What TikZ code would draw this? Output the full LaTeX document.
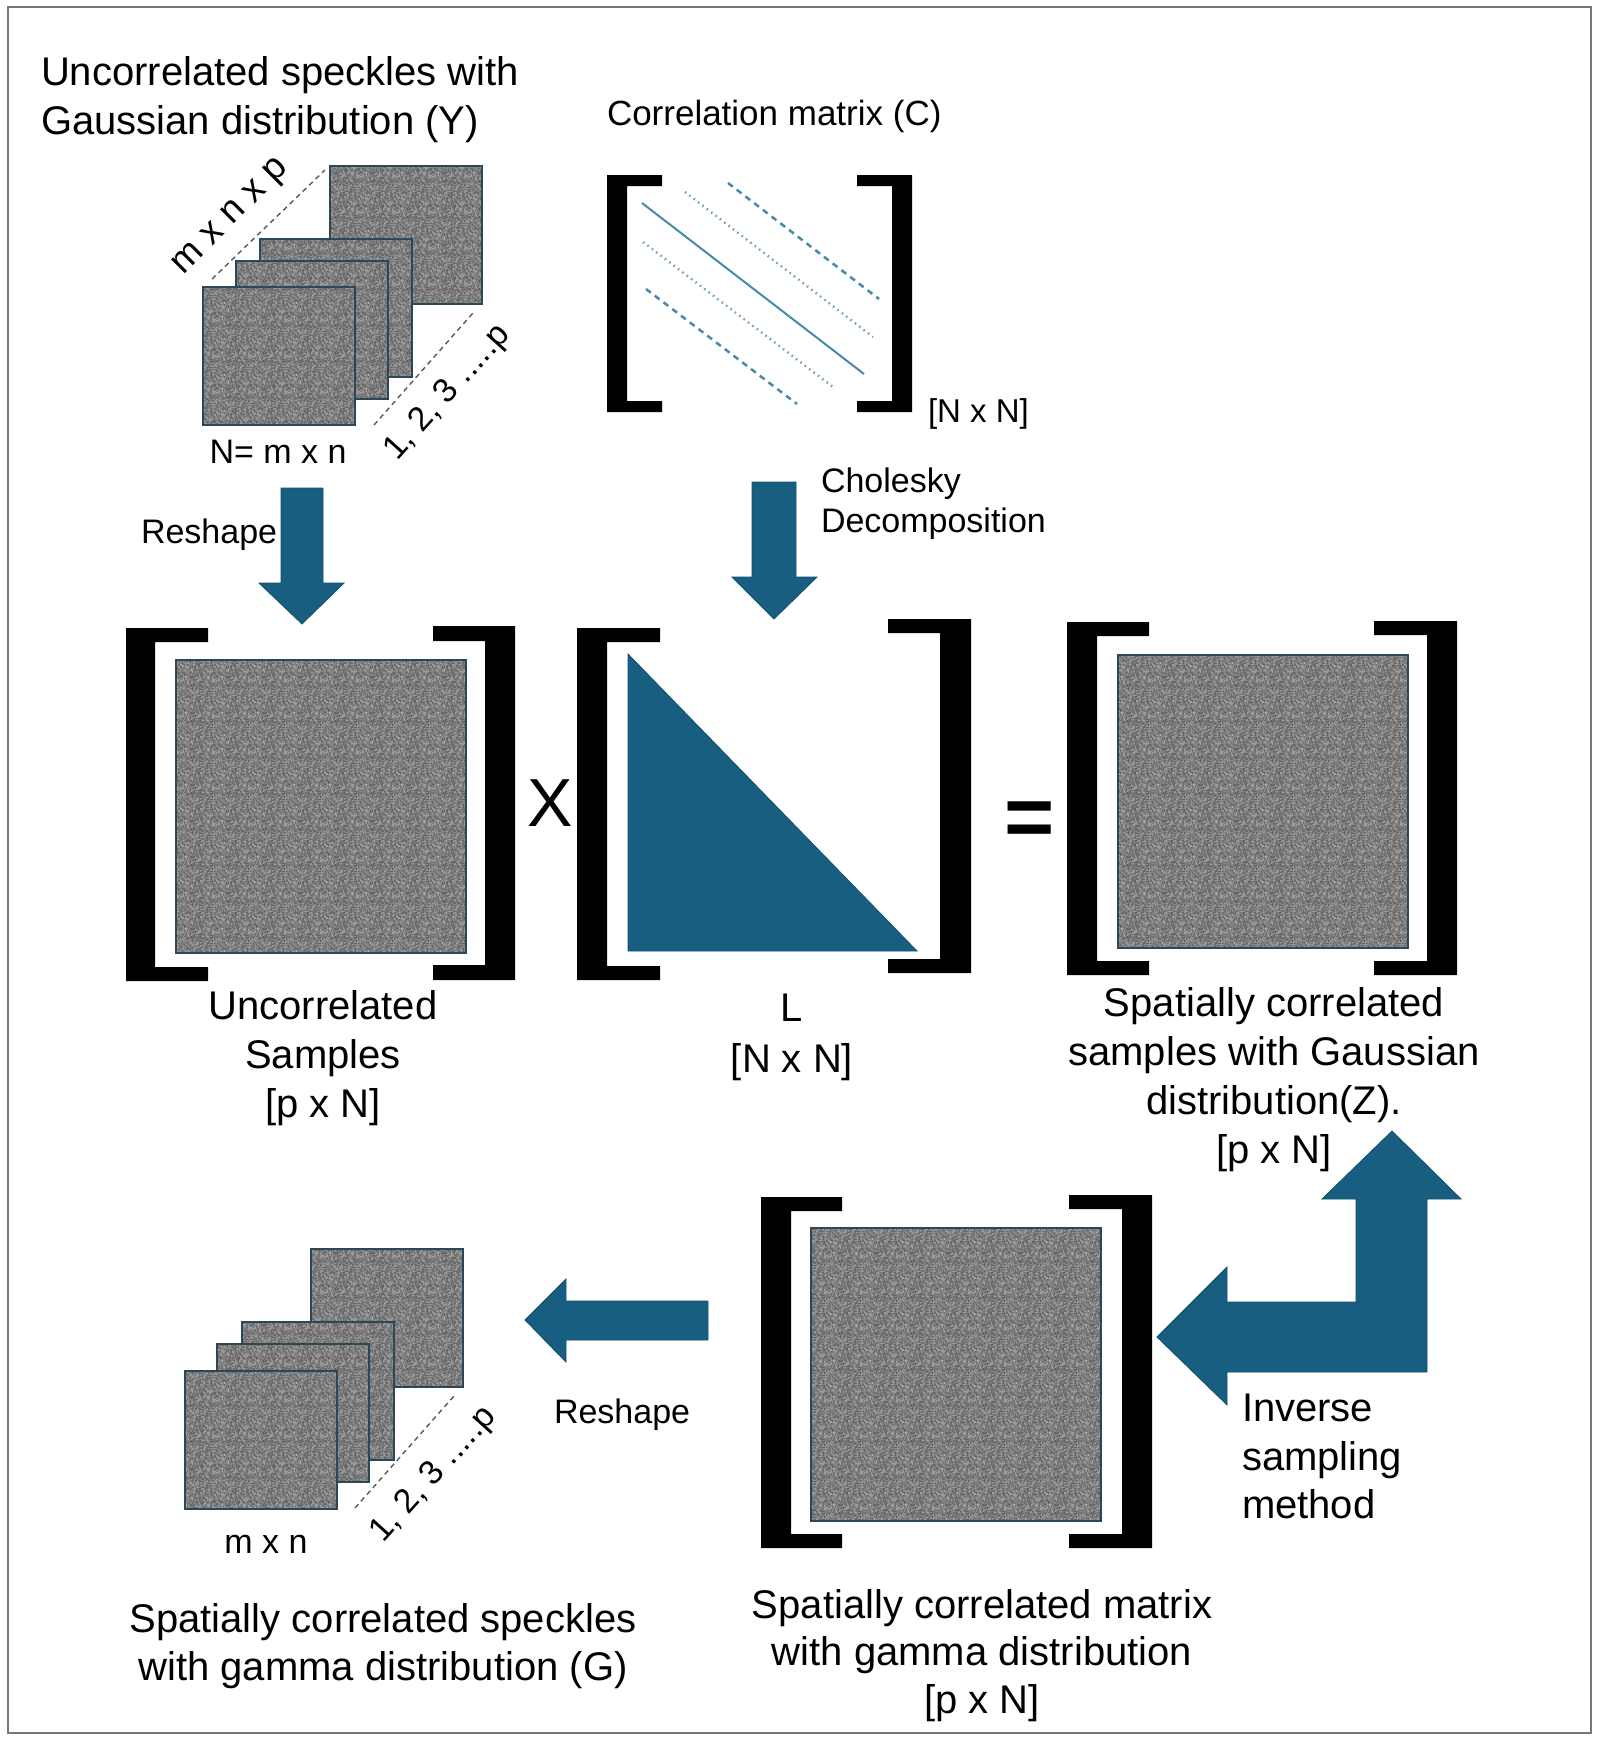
\documentclass[tikz,border=0pt]{standalone}
\usepackage{fontspec}
\setmainfont{Liberation Sans}
\usetikzlibrary{patterns}
\definecolor{arrowblue}{RGB}{23,94,128}
\definecolor{diagblue}{RGB}{70,138,170}
\definecolor{sqline}{RGB}{44,72,88}
\definecolor{spbase}{RGB}{128,128,128}
\definecolor{sphi}{RGB}{166,166,166}
\definecolor{splo}{RGB}{96,96,96}
\definecolor{frame}{RGB}{120,120,120}
\pgfdeclarepatternformonly{noiseA}{\pgfqpoint{0pt}{0pt}}{\pgfqpoint{36pt}{36pt}}{\pgfqpoint{36pt}{36pt}}{%
  \pgfmathsetseed{17}%
  \foreach \k in {1,...,260}{%
    \pgfmathrandominteger{\rx}{0}{35}%
    \pgfmathrandominteger{\ry}{0}{35}%
    \pgfpathrectangle{\pgfpoint{\rx pt}{\ry pt}}{\pgfpoint{1.3pt}{1.3pt}}%
    \pgfusepath{fill}%
  }%
}
\pgfdeclarepatternformonly{noiseB}{\pgfqpoint{0pt}{0pt}}{\pgfqpoint{36pt}{36pt}}{\pgfqpoint{36pt}{36pt}}{%
  \pgfmathsetseed{53}%
  \foreach \k in {1,...,240}{%
    \pgfmathrandominteger{\rx}{0}{35}%
    \pgfmathrandominteger{\ry}{0}{35}%
    \pgfpathrectangle{\pgfpoint{\rx pt}{\ry pt}}{\pgfpoint{1.3pt}{1.3pt}}%
    \pgfusepath{fill}%
  }%
}
% left bracket: x outer, y top, y bottom, arm end x, bar width, arm thickness
\newcommand\lbrk[6]{\fill (#1,#2) -- (#4,#2) -- (#4,#2+#6) -- (#1+#5,#2+#6) -- (#1+#5,#3-#6) -- (#4,#3-#6) -- (#4,#3) -- (#1,#3) -- cycle;}
\newcommand\rbrk[6]{\fill (#1,#2) -- (#4,#2) -- (#4,#2+#6) -- (#1-#5,#2+#6) -- (#1-#5,#3-#6) -- (#4,#3-#6) -- (#4,#3) -- (#1,#3) -- cycle;}
\begin{document}
\begin{tikzpicture}[x=1pt,y=-1pt,
  speck/.style={anchor=north west, inner sep=0pt, outer sep=0pt,
    minimum width=152pt, minimum height=138pt, fill=spbase,
    postaction={pattern=noiseA, pattern color=sphi},
    postaction={pattern=noiseB, pattern color=splo},
    postaction={draw=sqline, line width=1.3pt}},
  bigspeck/.style={speck, minimum width=290pt, minimum height=293pt},
  blockarrow/.style={fill=arrowblue, draw=arrowblue!85!black, line width=0.8pt},
  dimline/.style={draw=black!65, line width=1.4pt, dash pattern=on 5pt off 4pt},
  diagsolid/.style={draw=diagblue, line width=2pt},
  diagdash/.style={draw=diagblue, line width=2.5pt, dash pattern=on 6pt off 5pt},
  diagdot/.style={draw=diagblue!80, line width=2.4pt, dash pattern=on 1.5pt off 4pt},
  txt/.style={inner sep=0pt, outer sep=0pt, text=black},
  t40/.style={txt, font=\fontsize{40}{49}\selectfont},
  t35/.style={txt, font=\fontsize{35}{42}\selectfont},
  t34/.style={txt, font=\fontsize{34}{40}\selectfont},
  t33/.style={txt, font=\fontsize{33}{40}\selectfont}]
\useasboundingbox (0,0) rectangle (1600,1742);
\fill[white] (0,0) rectangle (1600,1742);
\draw[frame, line width=2.5pt] (8,7) rectangle (1591,1733);

% ---------- top left: uncorrelated speckles stack ----------
\node[t40, anchor=north west, align=left] (ttlY) at (41,57) {Uncorrelated speckles with\\Gaussian distribution (Y)};
\node[speck] (y4) at (330,166) {};
\node[speck] (y3) at (260,239) {};
\node[speck] (y2) at (236,261) {};
\node[speck] (y1) at (203,287) {};
\draw[dimline] (212,279) -- (325,170);
\draw[dimline] (374,425) -- (473,313);
\node[txt, font=\fontsize{37}{40}\selectfont, rotate=45] (mnp) at (232,218) {m x n x p};
\node[t34, rotate=48] (idx1) at (448,393) {1, 2, 3 .....p};
\node[t34, anchor=base] (nmn) at (278,463) {N= m x n};

% ---------- correlation matrix ----------
\node[t35, anchor=base west] (ttlC) at (607,125) {Correlation matrix (C)};
\lbrk{607}{175}{412}{662}{20}{11}
\rbrk{912}{175}{412}{857}{20}{11}
\draw[diagsolid] (642,203) -- (864,374);
\draw[diagdot] (685,192) -- (873,337);
\draw[diagdash] (728,183) -- (879,299);
\draw[diagdot] (643,242) -- (833,387);
\draw[diagdash] (646,289) -- (797,404);
\node[t33, anchor=base west] (nnC) at (928,422) {[N x N]};

% ---------- arrows to the middle row ----------
\draw[blockarrow] (281,488) -- (323,488) -- (323,583) -- (344,583) -- (302,624) -- (259,583) -- (281,583) -- cycle;
\node[t34, anchor=base west] (resh1) at (141,543) {Reshape};
\draw[blockarrow] (752,482) -- (796,482) -- (796,577) -- (817,577) -- (774,619) -- (732,577) -- (752,577) -- cycle;
\node[t34, anchor=north west, align=left] (chol) at (821,468) {Cholesky\\Decomposition};

% ---------- middle row ----------
\lbrk{126}{628}{981}{208}{29}{14}
\node[bigspeck] (uY) at (176,660) {};
\rbrk{515}{626}{980}{433}{30}{15}
\node[t40, anchor=north, align=center] (labY) at (323,991) {Uncorrelated\\Samples\\{[p x N]}};
\node[txt, font=\fontsize{68}{80}\selectfont] (times) at (550,803) {X};

\lbrk{577}{628}{980}{660}{30}{14}
\fill[arrowblue, draw=arrowblue!85!black, line width=0.8pt] (628,654) -- (917,951) -- (628,951) -- cycle;
\rbrk{971}{619}{973}{888}{31}{14}
\node[txt, font=\fontsize{40}{51}\selectfont, anchor=north, align=center] (labL) at (792,994) {L\\{[N x N]}};
\node[txt, font=\fontsize{86}{90}\selectfont\bfseries] (eq) at (1030,824) {=};

\lbrk{1067}{622}{975}{1149}{30}{14}
\node[bigspeck] (zZ) at (1118,655) {};
\rbrk{1457}{621}{975}{1374}{30}{14}
\node[t40, anchor=north, align=center] (labZ) at (1274,988) {Spatially correlated\\samples with Gaussian\\distribution(Z).\\{[p x N]}};

% ---------- bottom row ----------
\draw[blockarrow] (1157,1337) -- (1227,1267) -- (1227,1302) -- (1356,1302) -- (1356,1199) -- (1322,1199) -- (1392,1131) -- (1461,1199) -- (1427,1199) -- (1427,1372) -- (1227,1372) -- (1227,1405) -- cycle;
\node[txt, font=\fontsize{40}{48.5}\selectfont, anchor=north west, align=left] (inv) at (1242,1394) {Inverse\\sampling\\method};

\lbrk{761}{1197}{1548}{842}{30}{14}
\node[bigspeck] (gM) at (811,1228) {};
\rbrk{1152}{1195}{1548}{1069}{30}{14}
\node[txt, font=\fontsize{40}{47.5}\selectfont, anchor=north, align=center] (labGm) at (982,1589) {Spatially correlated matrix\\with gamma distribution\\{[p x N]}};

\draw[blockarrow] (708,1301) -- (566,1301) -- (566,1279) -- (525,1320) -- (566,1362) -- (566,1340) -- (708,1340) -- cycle;
\node[t34, anchor=base west] (resh2) at (554,1423) {Reshape};

\node[speck] (g4) at (311,1249) {};
\node[speck] (g3) at (242,1322) {};
\node[speck] (g2) at (217,1344) {};
\node[speck] (g1) at (185,1371) {};
\draw[dimline] (355,1508) -- (454,1396);
\node[t34, rotate=48] (idx2) at (434,1475) {1, 2, 3 .....p};
\node[t34, anchor=base] (mn2) at (266,1553) {m x n};
\node[txt, font=\fontsize{40}{48}\selectfont, anchor=north, align=center] (labG) at (383,1603) {Spatially correlated speckles\\with gamma distribution (G)};
\end{tikzpicture}
\end{document}
